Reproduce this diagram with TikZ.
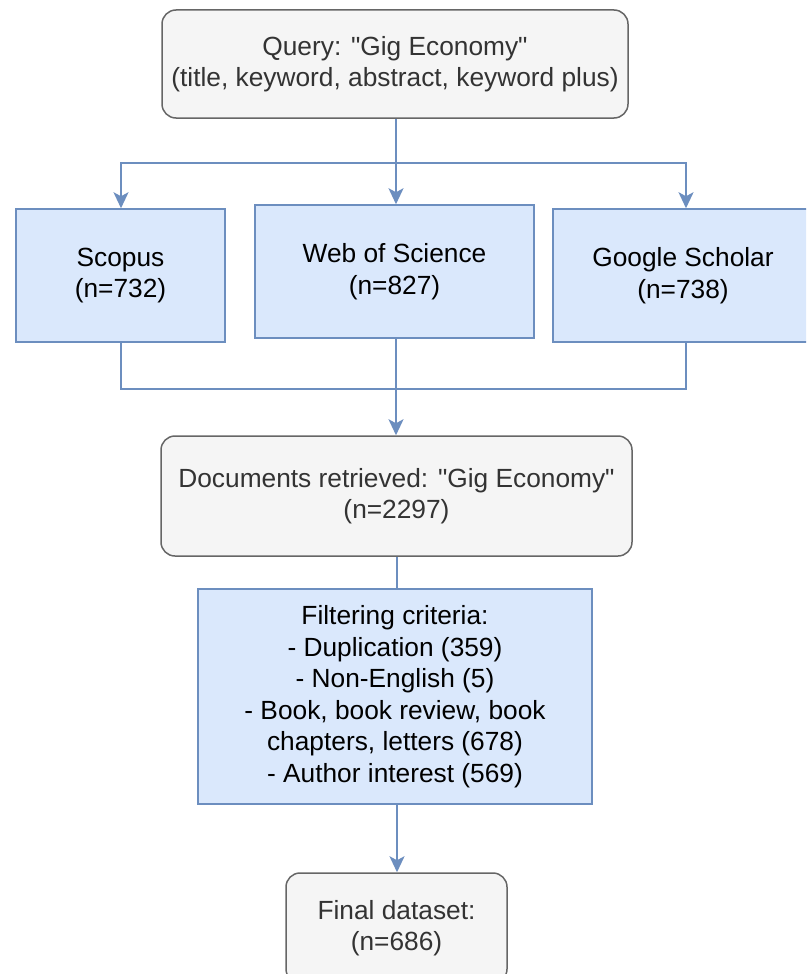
\documentclass[tikz,border=0pt]{standalone}
\usepackage{fontspec}
\setmainfont{Liberation Sans}[Ligatures=TeXOff]
\usetikzlibrary{arrows.meta}
\definecolor{grayfill}{HTML}{F5F5F5}
\definecolor{graydraw}{HTML}{666666}
\definecolor{bluefill}{HTML}{DAE8FC}
\definecolor{bluedraw}{HTML}{6C8EBF}
\definecolor{txtgray}{HTML}{333333}
\begin{document}
\begin{tikzpicture}[x=1pt,y=-1pt,
  every node/.style={font=\fontsize{26.3}{31.5}\selectfont, align=center, inner sep=0pt},
  graybox/.style={draw=graydraw, fill=grayfill, line width=1.5pt, rounded corners=14pt, text=txtgray},
  bluebox/.style={draw=bluedraw, fill=bluefill, line width=1.5pt, text=black},
  conn/.style={draw=bluedraw, line width=2pt},
  arr/.style={conn, -{Stealth[length=16pt,width=15pt,inset=4pt]}}]
\useasboundingbox (0,0) rectangle (806,974);
\clip (0,0) rectangle (806,974);
\node[graybox, minimum width=466pt, minimum height=108pt] (q) at (395,64) {Query: "Gig Economy"\\(title, keyword, abstract, keyword plus)};
\node[bluebox, minimum width=209pt, minimum height=133pt] (sc) at (120.5,275.5) {Scopus\\(n=732)};
\node[bluebox, minimum width=279pt, minimum height=133pt] (ws) at (394.5,271.5) {Web of Science\\(n=827)};
\node[bluebox, minimum width=260pt, minimum height=133pt] (gs) at (683,275.5) {Google Scholar\\(n=738)};
\node[graybox, minimum width=471pt, minimum height=120pt] (dr) at (396.5,496) {Documents retrieved: "Gig Economy"\\(n=2297)};
\node[bluebox, minimum width=394pt, minimum height=215pt] (fc) at (395,696.5) {Filtering criteria:\\- Duplication (359)\\- Non-English (5)\\- Book, book review, book\\chapters, letters (678)\\- Author interest (569)};
\node[graybox, minimum width=221pt, minimum height=110pt] (fd) at (396.5,928) {Final dataset:\\(n=686)};
\coordinate (split) at (396,163);
\coordinate (join) at (396,389);
\draw[conn] (q.south -| split) -- (split);
\draw[arr] (split) -- (split |- ws.north);
\draw[arr] (split) -| (sc.north -| 121,0);
\draw[arr] (split) -| (gs.north -| 686,0);
\draw[conn] (sc.south -| 121,0) |- (join);
\draw[conn] (gs.south -| 686,0) |- (join);
\draw[conn] (ws.south -| join) -- (join);
\draw[arr] (join) -- (join |- dr.north);
\draw[conn] (dr.south -| 397,0) -- (fc.north -| 397,0);
\draw[arr] (fc.south -| 397,0) -- (fd.north -| 397,0);
\end{tikzpicture}
\end{document}
